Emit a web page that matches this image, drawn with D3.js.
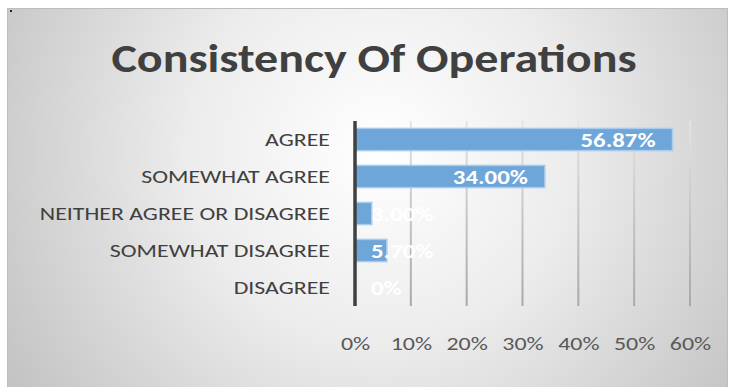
<!DOCTYPE html>
<html>
<head>
<meta charset="utf-8">
<script src="https://cdn.jsdelivr.net/npm/d3@7"></script>
<style>
  html, body { margin: 0; padding: 0; background: #ffffff; }
  svg { display: block; }
  text { font-family: Carlito, Lato, "Open Sans", sans-serif; }
</style>
</head>
<body>
<svg id="chart" width="729" height="387"></svg>
<script>
// Survey responses, top to bottom
const categories = ["AGREE", "SOMEWHAT AGREE", "NEITHER AGREE OR DISAGREE", "SOMEWHAT DISAGREE", "DISAGREE"];
const shares = [0.5687, 0.34, 0.03, 0.057, 0];
const valueLabels = ["56.87%", "34.00%", "3.00%", "5.70%", "0%"];
const tickValues = [0, 0.1, 0.2, 0.3, 0.4, 0.5, 0.6];
const chartTitle = "Consistency Of Operations";

const svg = d3.select("#chart");
const defs = svg.append("defs");

// widen glyphs horizontally by a factor, keeping the anchor
function widen(sel, factor) {
  sel.each(function () {
    const w = this.getComputedTextLength();
    d3.select(this).attr("textLength", w * factor).attr("lengthAdjust", "spacingAndGlyphs");
  });
}

// soft radial backdrop
const bg = defs.append("radialGradient")
  .attr("id", "bgGrad")
  .attr("gradientUnits", "userSpaceOnUse")
  .attr("cx", 380).attr("cy", 150).attr("r", 430);
bg.append("stop").attr("offset", "0%").attr("stop-color", "#ffffff");
bg.append("stop").attr("offset", "45%").attr("stop-color", "#ececec");
bg.append("stop").attr("offset", "100%").attr("stop-color", "#c4c4c4");

const grid = defs.append("linearGradient")
  .attr("id", "gridGrad")
  .attr("gradientUnits", "userSpaceOnUse")
  .attr("x1", 0).attr("y1", 121).attr("x2", 0).attr("y2", 306);
grid.append("stop").attr("offset", "0%").attr("stop-color", "#e4e4e4");
grid.append("stop").attr("offset", "100%").attr("stop-color", "#a8a8a8");

svg.append("rect")
  .attr("x", 7.5).attr("y", 8.5)
  .attr("width", 720).attr("height", 385)
  .attr("fill", "url(#bgGrad)")
  .attr("stroke", "#bdbdbd").attr("stroke-width", 1);

svg.append("rect").attr("x", 10).attr("y", 10).attr("width", 2).attr("height", 2).attr("fill", "#222");

// title
svg.append("text")
  .attr("x", 374).attr("y", 72)
  .attr("text-anchor", "middle")
  .attr("font-size", 40).attr("font-weight", 700)
  .attr("fill", "#404040")
  .text(chartTitle)
  .call(widen, 1.2);

const x = d3.scaleLinear().domain([0, 0.6]).range([355, 690]);
const y = d3.scaleBand().domain(categories).range([121, 306]).paddingInner(0.4).paddingOuter(0.2);

// vertical gridlines
svg.append("g")
  .selectAll("line")
  .data(tickValues.slice(1))
  .join("line")
  .attr("x1", d => x(d)).attr("x2", d => x(d))
  .attr("y1", 121).attr("y2", 306)
  .attr("stroke", "url(#gridGrad)").attr("stroke-width", 2);

// tick labels via a bottom axis
const xAxis = svg.append("g")
  .attr("transform", "translate(0,306)")
  .call(d3.axisBottom(x).tickValues(tickValues).tickFormat(d3.format(".0%")).tickSize(0).tickPadding(31));
xAxis.select(".domain").remove();
xAxis.selectAll("text")
  .attr("font-family", null)
  .attr("font-size", 19)
  .attr("fill", "#595959")
  .call(widen, 1.26);

// category labels via a left axis
const yAxis = svg.append("g")
  .attr("transform", "translate(355,0)")
  .call(d3.axisLeft(y).tickSize(0).tickPadding(25));
yAxis.select(".domain").remove();
yAxis.selectAll("text")
  .attr("font-family", null)
  .attr("font-size", 19)
  .attr("fill", "#404040")
  .call(widen, 1.255);

// bars
svg.append("g")
  .selectAll("rect")
  .data(categories)
  .join("rect")
  .attr("x", x(0))
  .attr("y", d => y(d))
  .attr("width", (d, i) => x(shares[i]) - x(0))
  .attr("height", y.bandwidth())
  .attr("fill", "#6fa6da")
  .attr("stroke", "#a9cbec").attr("stroke-width", 1.5);

// category axis line
svg.append("line")
  .attr("x1", x(0)).attr("x2", x(0))
  .attr("y1", 121).attr("y2", 306)
  .attr("stroke", "#404040").attr("stroke-width", 3.5);

// value labels: inside the bar end when they fit, else just past the axis
const labels = svg.append("g")
  .selectAll("text")
  .data(categories)
  .join("text")
  .attr("y", d => y(d) + y.bandwidth() / 2)
  .attr("dy", "0.36em")
  .attr("font-size", 20).attr("font-weight", 700)
  .attr("fill", "#ffffff")
  .text((d, i) => valueLabels[i])
  .call(widen, 1.24);

labels.each(function (d, i) {
  const t = d3.select(this);
  const w = +t.attr("textLength");
  const barW = x(shares[i]) - x(0);
  if (w + 34 <= barW) {
    t.attr("x", x(shares[i]) - 17).attr("text-anchor", "end");
  } else {
    t.attr("x", x(0) + 16).attr("text-anchor", "start");
  }
});
</script>
</body>
</html>
